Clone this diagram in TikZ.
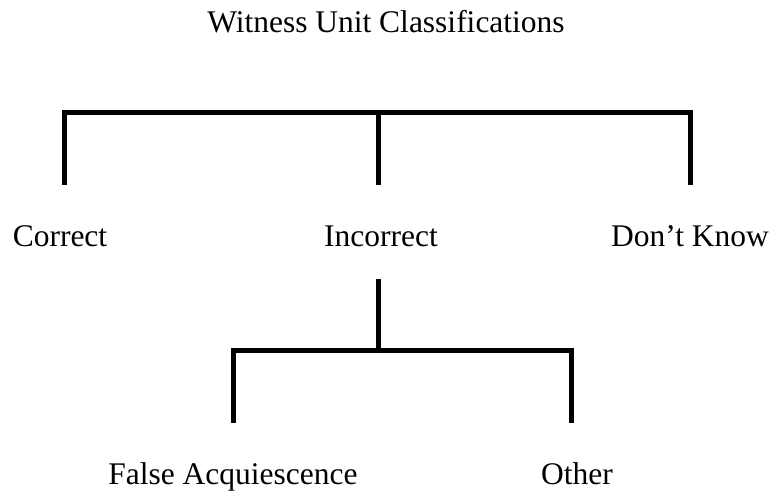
\documentclass[tikz,border=0pt]{standalone}
\usepackage{fontspec}
\setmainfont{Liberation Serif}
\begin{document}
\begin{tikzpicture}[x=1pt,y=-1pt,
  bar/.style={line width=5pt, line join=miter, black},
  lbl/.style={anchor=base, inner sep=0pt, font=\fontsize{31.5}{36}\selectfont}]
\useasboundingbox (0,0) rectangle (776,493);
% title
\node[lbl] (title) at (386,32) {Witness Unit Classifications};
% first level labels
\node[lbl] (correct) at (60,246) {Correct};
\node[lbl] (incorrect) at (381,246) {Incorrect};
\node[lbl] (dontknow) at (690,246) {Don’t Know};
% second level labels
\node[lbl] (false) at (233,484) {False Acquiescence};
\node[lbl] (other) at (577,484) {Other};
% top bracket
\coordinate (tl) at (64,112);
\coordinate (tm) at (378,112);
\coordinate (tr) at (690,112);
\coordinate (bl) at (64,185);
\coordinate (bm) at (378,185);
\coordinate (br) at (690,185);
\draw[bar] (bl) -- (tl) -- (tr) -- (br);
\draw[bar] (tm) -- (bm);
% lower bracket
\coordinate (m1) at (378,279);
\coordinate (m2) at (378,350);
\coordinate (ll) at (233,350);
\coordinate (lr) at (571,350);
\coordinate (lld) at (233,423);
\coordinate (lrd) at (571,423);
\draw[bar] (lld) -- (ll) -- (lr) -- (lrd);
\draw[bar] (m1) -- (m2);
\end{tikzpicture}
\end{document}
